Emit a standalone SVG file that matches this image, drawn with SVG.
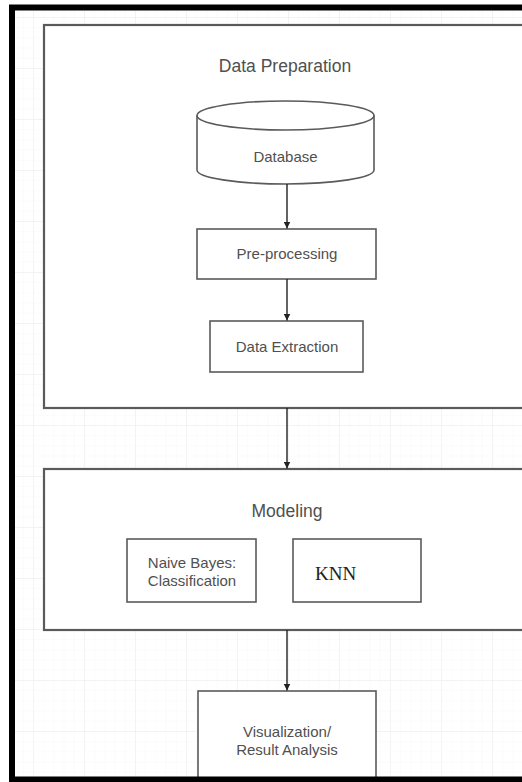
<svg xmlns="http://www.w3.org/2000/svg" width="522" height="782" viewBox="0 0 522 782">
<style>
  .box{fill:#ffffff;stroke:#5a5a5a;stroke-width:1.6}
  .group{fill:#ffffff;stroke:#5a5a5a;stroke-width:2.2}
  .lbl{font-family:"Liberation Sans",Arial,sans-serif;fill:#505050;text-anchor:middle;font-size:15px}
  .title{font-size:17.5px}
  .conn{stroke:#222222;stroke-width:1.4;fill:none}
</style>
<defs>
  <pattern id="gridMinor" width="10.2" height="10.2" patternUnits="userSpaceOnUse" x="33" y="17">
    <path d="M10.2 0H0V10.2" fill="none" stroke="#f7f7f7" stroke-width="1"/>
  </pattern>
  <pattern id="gridMajor" width="51" height="51" patternUnits="userSpaceOnUse" x="33" y="17">
    <path d="M51 0H0V51" fill="none" stroke="#ececec" stroke-width="1"/>
  </pattern>
  <marker id="arrow" viewBox="0 0 10 10" refX="10" refY="5" markerWidth="7" markerHeight="7" markerUnits="userSpaceOnUse" orient="auto">
    <path d="M0 0L10 5L0 10z" fill="#222222"/>
  </marker>
</defs>
<rect width="522" height="782" fill="#ffffff"/>
<rect x="15" y="11" width="507" height="766" fill="url(#gridMinor)"/>
<rect x="15" y="11" width="507" height="766" fill="url(#gridMajor)"/>

<g id="data-preparation">
  <rect class="group" x="44" y="25" width="490" height="383"/>
  <text class="lbl title" x="285" y="72">Data Preparation</text>
</g>
<g id="modeling">
  <rect class="group" x="44" y="469" width="490" height="161"/>
  <text class="lbl title" x="287" y="517">Modeling</text>
</g>

<g id="database">
  <path class="box" d="M197 115.5V170A88.5 14 0 0 0 374 170V115.5A88.5 14.5 0 0 0 197 115.5Z"/>
  <path d="M197 115.5A88.5 14.5 0 0 0 374 115.5" fill="none" stroke="#5a5a5a" stroke-width="1.6"/>
  <text class="lbl" x="285.5" y="162">Database</text>
</g>
<g id="pre-processing">
  <rect class="box" x="197" y="229" width="179" height="50"/>
  <text class="lbl" x="287" y="259">Pre-processing</text>
</g>
<g id="data-extraction">
  <rect class="box" x="210" y="321" width="153" height="51"/>
  <text class="lbl" x="287" y="352">Data Extraction</text>
</g>
<g id="naive-bayes">
  <rect class="box" x="127" y="539" width="129" height="63"/>
  <text class="lbl" x="192" y="568">Naive Bayes:</text>
  <text class="lbl" x="192" y="586">Classification</text>
</g>
<g id="knn">
  <rect class="box" x="293" y="539" width="128" height="63"/>
  <text x="315" y="580" font-size="19" font-family="'Liberation Serif','Times New Roman',serif" fill="#222222">KNN</text>
</g>
<g id="visualization">
  <rect class="box" x="198" y="691" width="178" height="100"/>
  <text class="lbl" x="287" y="737">Visualization/</text>
  <text class="lbl" x="287" y="755">Result Analysis</text>
</g>

<g id="connectors">
  <line class="conn" x1="287" y1="184" x2="287" y2="228.5" marker-end="url(#arrow)"/>
  <line class="conn" x1="287" y1="279" x2="287" y2="320.5" marker-end="url(#arrow)"/>
  <line class="conn" x1="287" y1="408" x2="287" y2="468.5" marker-end="url(#arrow)"/>
  <line class="conn" x1="287" y1="630" x2="287" y2="690.5" marker-end="url(#arrow)"/>
</g>

<path d="M12 782V7.5H522M12 779.5H522" fill="none" stroke="#000000" stroke-width="6"/>
</svg>
